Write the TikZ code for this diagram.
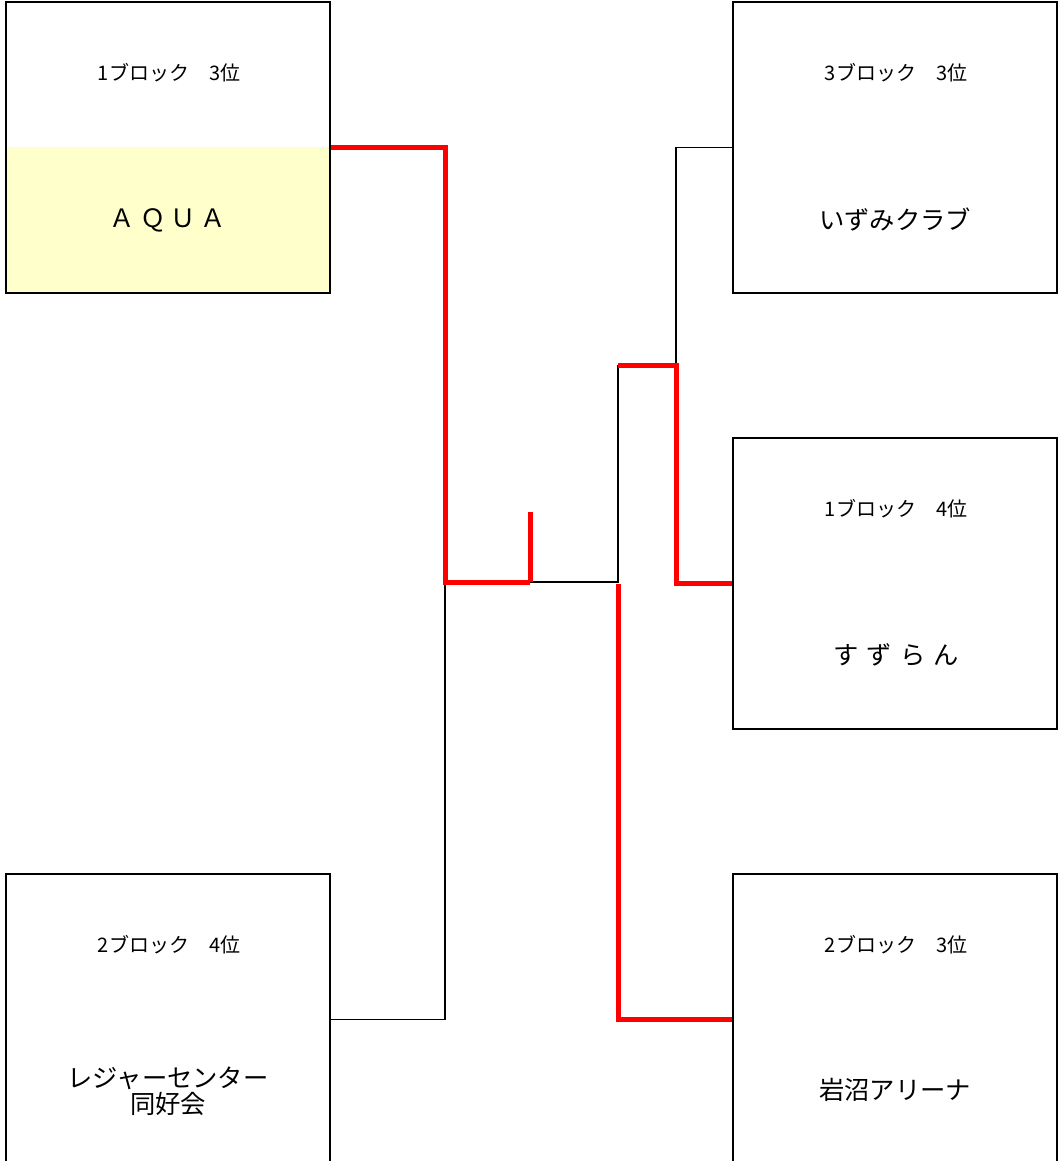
\documentclass[tikz,border=0pt]{standalone}
\usepackage{fontspec}
\setmainfont{Noto Sans CJK JP}
\definecolor{aquafill}{HTML}{FFFFCC}
\definecolor{winred}{HTML}{FF0000}
\tikzset{
  teambox/.style={draw=black, line width=2pt, minimum width=324pt, minimum height=291pt, inner sep=0pt},
  blocklabel/.style={font=\fontsize{20}{22}\selectfont, inner sep=0pt},
  teamname/.style={font=\fontsize{25.3}{26}\selectfont, inner sep=0pt, align=center},
  loser/.style={draw=black, line width=1.8pt},
  winner/.style={draw=winred, line width=5pt},
}
\begin{document}
\begin{tikzpicture}[x=1pt, y=-1pt]
\useasboundingbox (0,0) rectangle (1062,1161);
\clip (0,0) rectangle (1062,1161);
% yellow highlight of AQUA
\fill[aquafill] (6,147) rectangle (330,293);
% boxes
\node[teambox] (aqua) at (168,147.5) {};
\node[teambox] (izumi) at (895,147.5) {};
\node[teambox] (suzu) at (895,583.5) {};
\node[teambox] (leis) at (168,1019.5) {};
\node[teambox] (iwa) at (895,1019.5) {};
% texts
\node[blocklabel] (aqual) at (169,73) {1ブロック　3位};
\node[teamname] (aquan) at (168,220) {Ａ\hspace{5pt}Ｑ\hspace{5pt}Ｕ\hspace{5pt}Ａ};
\node[blocklabel] (izumil) at (896,73) {3ブロック　3位};
\node[teamname] (izumin) at (895,219) {いずみクラブ};
\node[blocklabel] (suzul) at (896,509) {1ブロック　4位};
\node[teamname] (suzun) at (896,655) {す\hspace{8pt}ず\hspace{8pt}ら\hspace{8pt}ん};
\node[blocklabel] (leisl) at (169,945) {2ブロック　4位};
\node[teamname] (leisn) at (168,1091) {レジャーセンター\\同好会};
\node[blocklabel] (iwal) at (896,945) {2ブロック　3位};
\node[teamname] (iwan) at (895,1090) {岩沼アリーナ};
% junctions
\coordinate (j1) at (445,582);
\coordinate (j2) at (530,582);
\coordinate (jt) at (530,512);
\coordinate (j3) at (618,582);
\coordinate (j3b) at (618,584);
\coordinate (j4) at (618,365);
\coordinate (j5) at (676,365);
% losing paths (black)
\draw[loser] (leis.east) -| (j1);
\draw[loser] (j2) -- (j3) -- (j4);
\draw[loser] (izumi.west) -| (j5);
% winning paths (red)
\draw[winner] (aqua.east) -| (j1) -- (j2);
\draw[winner] (j2) -- (jt);
\draw[winner] (iwa.west) -| (j3b);
\draw[winner] (suzu.west) -| (j5) -- (j4);
\end{tikzpicture}
\end{document}
